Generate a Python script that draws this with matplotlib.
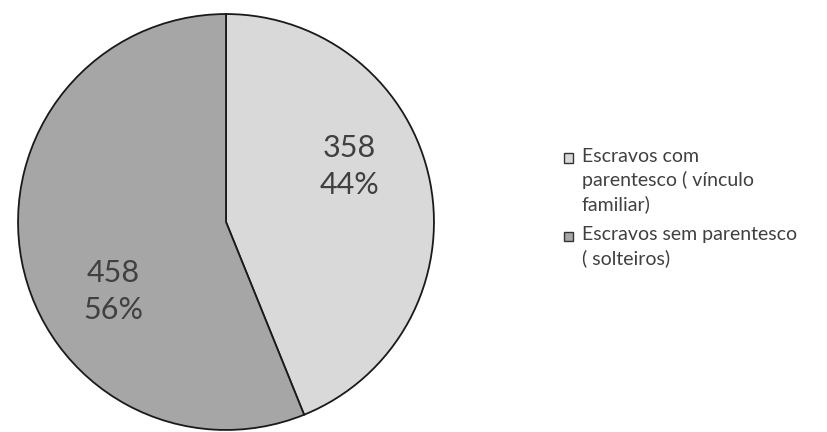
import matplotlib.pyplot as plt
from matplotlib.patches import Rectangle

# =========================
# DATA
# =========================
categories = ["Escravos com\nparentesco ( vínculo\nfamiliar)",
              "Escravos sem parentesco\n( solteiros)"]
counts = [358, 458]
colors = ["#d9d9d9", "#a6a6a6"]

plt.rcParams["font.family"] = ["Lato", "DejaVu Sans"]

W, H = 827, 432
fig = plt.figure(figsize=(W / 100, H / 100), dpi=100)
fig.patch.set_facecolor("white")

# =========================
# PIE
# =========================
cx, cy, r = 226, 222, 209
ax = fig.add_axes([(cx - r) / W, (H - cy - r) / H, 2 * r / W, 2 * r / H])

total = sum(counts)


def label(pct):
    n = round(pct * total / 100)
    return f"{n}\n{pct:.0f}%"


wedges, texts, autotexts = ax.pie(
    counts, colors=colors, startangle=90, counterclock=False,
    autopct=label, pctdistance=0.62,
    wedgeprops=dict(edgecolor="#1a1a1a", linewidth=1.3),
    textprops=dict(fontsize=22, color="#404040", linespacing=1.4),
)
autotexts[0].set_position((0.595, 0.265))
autotexts[1].set_position((-0.54, -0.335))
ax.set_xlim(-1.005, 1.005)
ax.set_ylim(-1.005, 1.005)
ax.set_aspect("equal")
ax.axis("off")

# =========================
# LEGEND
# =========================
legend_y = [158, 236]
for cat, col, y in zip(categories, colors, legend_y):
    fig.patches.append(Rectangle((564 / W, (H - y - 4.5) / H), 9 / W, 9 / H,
                                 transform=fig.transFigure, facecolor=col,
                                 edgecolor="#333333", linewidth=1.0))
    fig.text(582 / W, (H - y + 10) / H, cat, fontsize=14, color="#404040",
             va="top", ha="left", linespacing=1.42,
             transform=fig.transFigure)

fig.savefig("out.png", dpi=100)
